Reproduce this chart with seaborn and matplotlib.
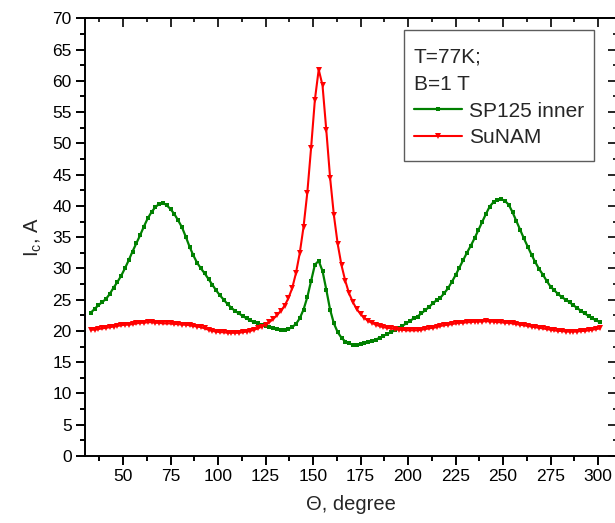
import numpy as np
import pandas as pd
import matplotlib
matplotlib.use("Agg")
import matplotlib.pyplot as plt
from matplotlib.ticker import MultipleLocator
from matplotlib.path import Path
import seaborn as sns

# ---- data ----
theta = list(range(33, 302, 2))

sp125_inner = [
    22.9, 23.5, 24.1, 24.6, 25.1, 25.9, 26.9, 27.8, 28.8, 30.0,   # 33-51
    31.3, 32.7, 34.0, 35.3, 36.7, 38.0, 39.0, 39.8, 40.3, 40.5,   # 53-71
    40.1, 39.5, 38.7, 37.7, 36.6, 35.1, 33.5, 32.1, 30.9, 30.0,   # 73-91
    29.2, 28.3, 27.4, 26.5, 25.7, 25.0, 24.3, 23.7, 23.2, 22.8,   # 93-111
    22.4, 22.0, 21.7, 21.4, 21.2, 21.0, 20.8, 20.6, 20.4, 20.3,   # 113-131
    20.2, 20.2, 20.3, 20.6, 21.1, 22.0, 23.4, 25.4, 28.0, 30.6,   # 133-151
    31.2, 29.6, 26.6, 23.4, 21.2, 19.8, 18.9, 18.3, 18.0, 17.8,   # 153-171
    17.8, 17.9, 18.0, 18.2, 18.4, 18.6, 18.9, 19.2, 19.5, 19.8,   # 173-191
    20.1, 20.4, 20.8, 21.2, 21.6, 22.0, 22.3, 22.8, 23.3, 23.8,   # 193-211
    24.4, 24.9, 25.3, 26.0, 26.8, 27.8, 28.9, 30.1, 31.3, 32.5,   # 213-231
    33.6, 34.8, 36.1, 37.4, 38.7, 39.9, 40.6, 41.0, 41.1, 40.8,   # 233-251
    40.2, 39.0, 37.6, 36.2, 34.8, 33.5, 32.2, 31.0, 29.9, 29.0,   # 253-271
    28.0, 27.1, 26.5, 25.9, 25.4, 25.0, 24.6, 24.1, 23.7, 23.2,   # 273-291
    22.8, 22.4, 22.0, 21.7, 21.4,                                 # 293-301
]

sunam = [
    20.2, 20.2, 20.3, 20.4, 20.5, 20.6, 20.7, 20.8, 20.9, 21.0,   # 33-51
    21.0, 21.1, 21.2, 21.3, 21.3, 21.4, 21.4, 21.3, 21.3, 21.2,   # 53-71
    21.2, 21.2, 21.1, 21.1, 21.0, 21.0, 20.9, 20.8, 20.7, 20.6,   # 73-91
    20.4, 20.2, 20.0, 19.9, 19.8, 19.8, 19.7, 19.7, 19.7, 19.7,   # 93-111
    19.8, 19.9, 20.0, 20.2, 20.4, 20.7, 21.0, 21.4, 21.9, 22.5,   # 113-131
    23.2, 24.0, 25.2, 26.8, 29.2, 32.4, 36.6, 42.1, 49.3, 57.0,   # 133-151
    61.8, 59.3, 52.1, 44.5, 38.5, 33.9, 30.5, 28.0, 26.0, 24.6,   # 153-171
    23.5, 22.7, 22.1, 21.6, 21.3, 21.0, 20.8, 20.6, 20.5, 20.4,   # 173-191
    20.3, 20.2, 20.2, 20.1, 20.1, 20.1, 20.1, 20.2, 20.3, 20.4,   # 193-211
    20.5, 20.6, 20.8, 20.9, 21.0, 21.1, 21.2, 21.3, 21.3, 21.4,   # 213-231
    21.4, 21.5, 21.5, 21.5, 21.6, 21.5, 21.5, 21.4, 21.4, 21.3,   # 233-251
    21.3, 21.2, 21.1, 21.0, 20.9, 20.8, 20.7, 20.6, 20.5, 20.4,   # 253-271
    20.3, 20.2, 20.1, 20.0, 20.0, 19.9, 19.9, 19.9, 19.9, 20.0,   # 273-291
    20.0, 20.1, 20.2, 20.3, 20.4,                                 # 293-301
]

series_names = ["SP125 inner", "SuNAM"]
legend_title = "T=77K;\nB=1 T"
x_label = "\u0398, degree"
y_label = r"I$_\mathregular{c}$, A"

# ---- style ----
sns.set_style("ticks")
plt.rcParams["font.family"] = ["Liberation Sans", "DejaVu Sans"]
plt.rcParams["mathtext.fontset"] = "custom"
plt.rcParams["mathtext.rm"] = "Liberation Sans"

fig = plt.figure(figsize=(6.15, 5.23), dpi=100)
ax = fig.add_axes([85 / 615, 67 / 523, 532 / 615, 437.7 / 523])

df = pd.DataFrame({
    "theta": theta * 2,
    "Ic": sp125_inner + sunam,
    "series": [series_names[0]] * len(theta) + [series_names[1]] * len(theta),
})

sns.lineplot(data=df[df.series == series_names[0]], x="theta", y="Ic",
             color="#008000", marker="s", markersize=3.2, markeredgewidth=0,
             linewidth=1.6, label=series_names[0], ax=ax)
sns.lineplot(data=df[df.series == series_names[1]], x="theta", y="Ic",
             color="#ff0000", marker="v", markersize=4.5, markeredgewidth=0,
             linewidth=1.5, label=series_names[1], ax=ax)

ax.set_xlim(30, 310)
ax.set_ylim(0, 70)
ax.xaxis.set_major_locator(MultipleLocator(25))
ax.xaxis.set_minor_locator(MultipleLocator(12.5))
ax.yaxis.set_major_locator(MultipleLocator(5))
ax.yaxis.set_minor_locator(MultipleLocator(2.5))

for s in ax.spines.values():
    s.set_linewidth(1.4)
    s.set_color("black")

ax.tick_params(which="major", direction="out", length=6.5, width=1.4,
               labelsize=12.5, pad=3, colors="black")
ax.tick_params(which="minor", direction="out", length=3.6, width=1.4,
               colors="black")

# inward ticks on top and right
axt = ax.secondary_xaxis("top")
axt.xaxis.set_major_locator(MultipleLocator(25))
axt.xaxis.set_minor_locator(MultipleLocator(12.5))
axt.tick_params(which="major", direction="in", length=6.5, width=1.4,
                labeltop=False)
axt.tick_params(which="minor", direction="in", length=3.2, width=1.4)
axt.spines["top"].set_linewidth(1.4)

axr = ax.secondary_yaxis("right")
axr.yaxis.set_major_locator(MultipleLocator(5))
axr.yaxis.set_minor_locator(MultipleLocator(2.5))
axr.tick_params(which="major", direction="in", length=6.5, width=1.4,
                labelright=False)
axr.tick_params(which="minor", direction="in", length=3.2, width=1.4)
axr.spines["right"].set_linewidth(1.4)

ax.set_xlabel(x_label, fontsize=14.5, labelpad=8)
ax.set_ylabel(y_label, fontsize=14.5, labelpad=6)

leg = ax.legend(title=legend_title, loc="upper right",
                bbox_to_anchor=(0.957, 0.955), borderaxespad=0,
                fontsize=15, title_fontsize=15, alignment="left",
                frameon=True, fancybox=False, handlelength=2.3,
                handletextpad=0.35, borderpad=0.48, labelspacing=0.36)
leg.get_title().set_linespacing(1.55)


def tall_box(x0, y0, width, height, mutation_size):
    # rectangle with extra room above and below the legend content
    et = 0.38 * mutation_size
    eb = 0.19 * mutation_size
    x1 = x0 + width
    y1 = y0 + height
    return Path([(x0, y0 - eb), (x1, y0 - eb), (x1, y1 + et),
                 (x0, y1 + et), (x0, y0 - eb)], closed=True)


frame = leg.get_frame()
frame.set_boxstyle(tall_box)
frame.set_edgecolor("#333333")
frame.set_linewidth(1.0)

fig.savefig("out.png", dpi=100)
